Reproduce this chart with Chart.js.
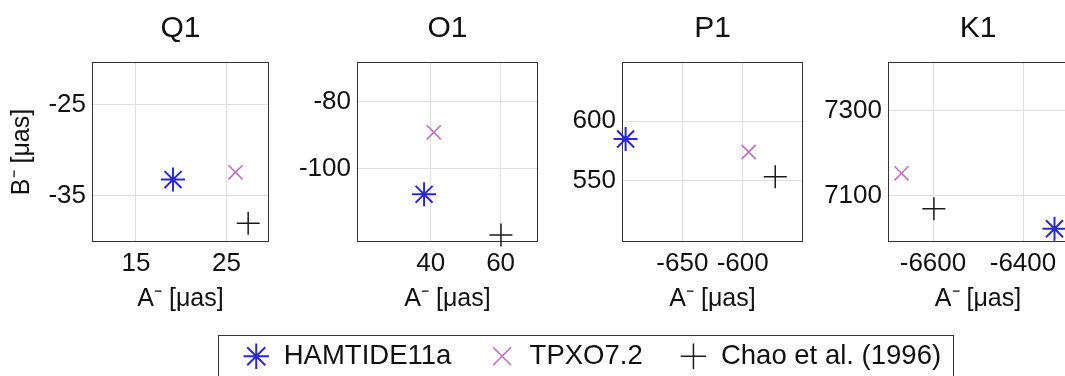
<!DOCTYPE html>
<html>
<head>
<meta charset="utf-8">
<script src="https://cdn.jsdelivr.net/npm/chart.js@4"></script>
<style>
  html, body { margin: 0; padding: 0; background: #fff; overflow: hidden; width: 1065px; height: 376px; }
  canvas { position: absolute; left: 0; top: 0; }
</style>
</head>
<body>
<canvas id="panel0" width="1100" height="376"></canvas>
<canvas id="panel1" width="1100" height="376"></canvas>
<canvas id="panel2" width="1100" height="376"></canvas>
<canvas id="panel3" width="1100" height="376"></canvas>
<canvas id="legendCanvas" width="1100" height="440"></canvas>
<script>
// Tidal constituents, one panel each
const constituents = ['Q1', 'O1', 'P1', 'K1'];
const seriesNames = ['HAMTIDE11a', 'TPXO7.2', 'Chao et al. (1996)'];

// Prograde/retrograde coefficients A⁻ (x) and B⁻ (y) in µas, per constituent
const hamtideA = [19.1, 38.1, -697, -6330];
const hamtideB = [-33.2, -107.8, 585, 7023];
const tpxoA = [26.0, 40.9, -595, -6670];
const tpxoB = [-32.4, -89.2, 574, 7153];
const chaoA = [27.4, 60.1, -573, -6598];
const chaoB = [-38.0, -120.0, 553, 7070];

// Axis ranges and tick values per panel
const xLimits = [[10.15, 29.7], [18.9, 70.7], [-700, -550], [-6700, -6300]];
const yLimits = [[-40.05, -20.3], [-122.1, -68.1], [498, 650], [6992, 7414]];
const xTicks = [[15, 25], [40, 60], [-650, -600], [-6600, -6400]];
const yTicks = [[-35, -25], [-100, -80], [550, 600], [7100, 7300]];

const xLabel = 'A\u207B [\u03BCas]';
const yLabel = 'B\u207B [\u03BCas]';

const seriesA = [hamtideA, tpxoA, chaoA];
const seriesB = [hamtideB, tpxoB, chaoB];
const seriesStyle = [
  { color: '#2a2ad2', pointStyle: 'star', radius: 12, width: 2 },
  { color: '#c070c0', pointStyle: 'crossRot', radius: 10, width: 1.6 },
  { color: '#1a1a1a', pointStyle: 'cross', radius: 11.5, width: 1.5 }
];

Chart.defaults.font.family = "'Liberation Sans', Arial, Helvetica, sans-serif";
Chart.defaults.color = '#111';

// Plot box edges on the page
const panelBoxes = [
  { left: 92, right: 269 },
  { left: 357, right: 538 },
  { left: 622, right: 803 },
  { left: 888, right: 1068 }
];
const boxTop = 62, boxBottom = 242;
const canvasW = 1100, canvasH = 376;

// Dark frame around the plotting area
const framePlugin = {
  id: 'frame',
  beforeDatasetsDraw(chart) {
    const { ctx, chartArea: a } = chart;
    ctx.save();
    ctx.strokeStyle = '#333';
    ctx.lineWidth = 1;
    ctx.strokeRect(Math.round(a.left) + 0.5, Math.round(a.top) + 0.5,
                   Math.round(a.right - a.left) - 1, Math.round(a.bottom - a.top) - 1);
    ctx.restore();
  }
};

function tickScale(limits, ticks, fixedSize, isX, titleText) {
  return {
    type: 'linear',
    min: limits[0],
    max: limits[1],
    afterBuildTicks: (scale) => { scale.ticks = ticks.map(v => ({ value: v })); },
    afterFit: (scale) => { if (isX) scale.height = fixedSize; else scale.width = fixedSize; },
    ticks: {
      autoSkip: false,
      maxRotation: 0,
      padding: 6,
      color: '#111',
      font: { size: 26 },
      callback: (value) => String(value)
    },
    grid: { color: '#e0e0e0', lineWidth: 1, drawTicks: false },
    border: { display: false },
    title: {
      display: !!titleText,
      text: titleText || '',
      color: '#111',
      font: { size: 25, lineHeight: 1.2 },
      padding: { top: 0, bottom: 0 }
    }
  };
}

constituents.forEach((name, i) => {
  const box = panelBoxes[i];
  const yAxisW = i === 0 ? 85 : 70;
  const xAxisH = 72;
  const titleTop = 14;
  new Chart(document.getElementById('panel' + i), {
    type: 'scatter',
    data: {
      datasets: seriesNames.map((label, k) => ({
        label,
        data: [{ x: seriesA[k][i], y: seriesB[k][i] }],
        pointStyle: seriesStyle[k].pointStyle,
        pointRadius: seriesStyle[k].radius,
        pointBorderColor: seriesStyle[k].color,
        pointBorderWidth: seriesStyle[k].width,
        pointBackgroundColor: 'transparent',
        borderColor: seriesStyle[k].color,
        clip: false
      }))
    },
    options: {
      responsive: false,
      animation: false,
      devicePixelRatio: 1,
      layout: {
        padding: {
          left: box.left - yAxisW,
          right: canvasW - box.right,
          top: titleTop,
          bottom: canvasH - boxBottom - xAxisH
        }
      },
      plugins: {
        legend: { display: false },
        tooltip: { enabled: false },
        title: {
          display: true,
          text: name,
          fullSize: false,
          color: '#111',
          font: { size: 30, weight: 'normal', lineHeight: 1 },
          padding: { top: 0, bottom: boxTop - titleTop - 30 }
        }
      },
      scales: {
        x: tickScale(xLimits[i], xTicks[i], xAxisH, true, xLabel),
        y: tickScale(yLimits[i], yTicks[i], yAxisW, false, i === 0 ? yLabel : '')
      }
    },
    plugins: [framePlugin]
  });
});

// Framed legend shared by all panels
const legendFramePlugin = {
  id: 'legendFrame',
  afterDraw(chart) {
    const hb = chart.legend && chart.legend.legendHitBoxes;
    if (!hb || !hb.length) return;
    const first = hb[0], last = hb[hb.length - 1];
    const left = Math.round(first.left - 24.5) + 0.5;
    const right = Math.round(last.left + last.width + 12) + 0.5;
    const top = Math.round(first.top - 8) + 0.5;
    const { ctx } = chart;
    ctx.save();
    ctx.strokeStyle = '#333';
    ctx.lineWidth = 1;
    ctx.strokeRect(left, top, right - left, 60);
    ctx.restore();
  }
};

new Chart(document.getElementById('legendCanvas'), {
  type: 'scatter',
  data: {
    datasets: seriesNames.map((label, k) => ({
      label,
      data: [],
      pointStyle: seriesStyle[k].pointStyle,
      pointBorderColor: seriesStyle[k].color,
      pointBorderWidth: seriesStyle[k].width,
      pointBackgroundColor: 'transparent',
      borderColor: seriesStyle[k].color,
      borderWidth: seriesStyle[k].width,
      backgroundColor: 'transparent'
    }))
  },
  options: {
    responsive: false,
    animation: false,
    devicePixelRatio: 1,
    layout: { padding: { left: 205.5, top: 305.5, right: 0, bottom: 0 } },
    scales: { x: { display: false }, y: { display: false } },
    plugins: {
      tooltip: { enabled: false },
      title: { display: false },
      legend: {
        display: true,
        position: 'top',
        align: 'start',
        labels: {
          usePointStyle: true,
          boxHeight: 18,
          padding: 37,
          color: '#111',
          font: { size: 27.5 }
        }
      }
    }
  },
  plugins: [legendFramePlugin]
});
</script>
</body>
</html>
